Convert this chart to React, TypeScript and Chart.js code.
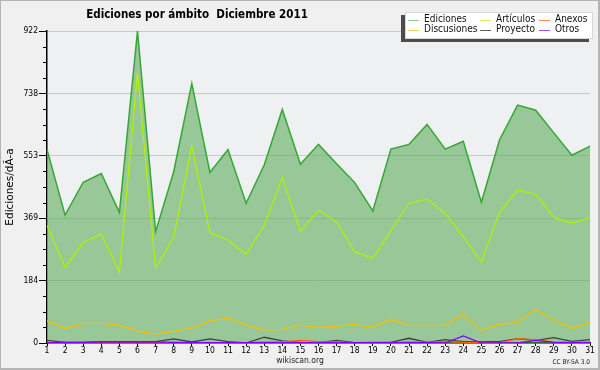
import React, { useEffect, useRef } from "react";
import { Chart, registerables } from "chart.js";

Chart.register(...registerables);

const days = ["1","2","3","4","5","6","7","8","9","10","11","12","13","14","15","16","17","18","19","20","21","22","23","24","25","26","27","28","29","30","31"];
const ediciones = [572,378,475,501,386,922,329,506,767,504,572,413,526,690,528,587,530,474,390,573,587,646,573,596,416,600,703,688,621,555,582];
const articulos = [347,224,297,322,209,797,221,312,582,326,304,262,347,488,330,393,357,270,250,332,413,425,383,314,238,386,452,439,371,354,371];
const discusiones = [66,43,58,58,53,35,26,35,43,66,73,53,38,40,53,46,50,55,46,70,52,52,52,85,38,55,61,100,68,43,61];
const proyecto = [8,2,2,4,4,4,4,12,3,12,4,0,17,6,2,1,8,1,2,2,14,2,10,4,4,4,13,8,16,5,10];
const anexos = [1,1,1,1,1,1,1,1,0,0,0,0,1,3,8,4,3,0,0,0,3,2,5,2,2,0,13,10,3,2,1];
const otros = [0,2,2,3,3,3,3,2,1,1,1,1,2,1,1,1,1,1,1,1,1,1,0,21,0,0,0,8,2,1,2];

const yMax = 922;
const yDivisions = 20;
const yMajorEvery = 4;

const FONT = "'DejaVu Sans Condensed', 'DejaVu Sans', sans-serif";

const legendItems = [
  { label: "Ediciones", color: "#8ad08a", col: 0, row: 0 },
  { label: "Artículos", color: "#c8f060", col: 1, row: 0 },
  { label: "Anexos", color: "#f08a5a", col: 2, row: 0 },
  { label: "Discusiones", color: "#f8d060", col: 0, row: 1 },
  { label: "Proyecto", color: "#606060", col: 1, row: 1 },
  { label: "Otros", color: "#a050f0", col: 2, row: 1 },
];

const decorPlugin = {
  id: "decor",
  beforeDraw(chart: any) {
    const { ctx, chartArea } = chart;
    ctx.save();
    ctx.fillStyle = "#f0f0f0";
    ctx.fillRect(0, 0, chart.width, chart.height);
    ctx.fillStyle = "#eff0f2";
    ctx.fillRect(chartArea.left, chartArea.top, chartArea.right - chartArea.left, chartArea.bottom - chartArea.top);
    ctx.restore();
  },
  afterDraw(chart: any) {
    const { ctx } = chart;
    const y = chart.scales.y;
    const axisX = chart.chartArea.left;
    ctx.save();
    ctx.strokeStyle = "#000";
    ctx.lineWidth = 1;
    y.ticks.forEach((t: any, i: number) => {
      if (i % yMajorEvery !== 0) {
        const py = Math.round(y.getPixelForValue(t.value)) + 0.5;
        ctx.beginPath();
        ctx.moveTo(axisX - 4, py);
        ctx.lineTo(axisX, py);
        ctx.stroke();
      }
    });
    ctx.fillStyle = "#000";
    ctx.font = "bold 11.5px " + FONT;
    ctx.textAlign = "center";
    ctx.textBaseline = "middle";
    ctx.fillText("Ediciones por ámbito  Diciembre 2011", 197, 15);
    ctx.font = "8.5px " + FONT;
    ctx.fillStyle = "#222";
    ctx.fillText("wikiscan.org", 300, 361);
    ctx.font = "6.5px " + FONT;
    ctx.textAlign = "right";
    ctx.fillText("CC BY-SA 3.0", 590, 362);
    ctx.fillStyle = "#4c4c4c";
    ctx.fillRect(401, 15, 188, 27);
    ctx.fillStyle = "#fff";
    ctx.fillRect(405, 12, 188, 27);
    ctx.strokeStyle = "#d8d8d8";
    ctx.strokeRect(405.5, 12.5, 187, 26);
    const colX = [408, 480, 539];
    const rowY = [19.5, 29.5];
    ctx.font = "10px " + FONT;
    ctx.textAlign = "left";
    ctx.textBaseline = "middle";
    legendItems.forEach((it) => {
      const x = colX[it.col];
      const yy = rowY[it.row];
      ctx.strokeStyle = it.color;
      ctx.lineWidth = 1;
      ctx.beginPath();
      ctx.moveTo(x, Math.round(yy) + 0.5);
      ctx.lineTo(x + 11, Math.round(yy) + 0.5);
      ctx.stroke();
      ctx.fillStyle = "#111";
      ctx.fillText(it.label, x + 16, yy);
    });
    ctx.fillStyle = "#b4b4b4";
    ctx.fillRect(0, 0, chart.width, 1);
    ctx.fillRect(0, 0, 1, chart.height);
    ctx.fillRect(chart.width - 2, 0, 2, chart.height);
    ctx.fillRect(0, chart.height - 2, chart.width, 2);
    ctx.restore();
  },
};

export default function App() {
  const ref = useRef<HTMLCanvasElement | null>(null);
  useEffect(() => {
    document.body.style.margin = "0";
    const canvas = ref.current!;
    const line = (label: string, data: number[], color: string, order: number, width: number, extra: any = {}) => ({
      label,
      data,
      borderColor: color,
      borderWidth: width,
      pointRadius: 0,
      tension: 0,
      fill: false,
      order,
      ...extra,
    });
    const chart = new Chart(canvas, {
      type: "line",
      data: {
        labels: days,
        datasets: [
          line("Ediciones", ediciones, "#34a834", 6, 1.5, { fill: "origin", backgroundColor: "rgba(94,173,92,0.6)" }),
          line("Artículos", articulos, "#b0f000", 5, 1.3),
          line("Discusiones", discusiones, "#f2c000", 4, 1.3),
          line("Proyecto", proyecto, "#404040", 3, 1.3),
          line("Anexos", anexos, "#ff6000", 2, 1.3),
          line("Otros", otros, "#8000ff", 1, 1.3),
        ],
      },
      options: {
        animation: false,
        responsive: false,
        devicePixelRatio: 1,
        layout: { padding: { top: 31, right: 10, left: 0, bottom: 0 } },
        plugins: { legend: { display: false }, title: { display: false }, tooltip: { enabled: false } },
        scales: {
          x: {
            offset: false,
            afterFit: (s: any) => { s.height = 27; },
            ticks: { autoSkip: false, maxRotation: 0, padding: 0, color: "#000", font: { family: FONT, size: 8.5 } },
            grid: { drawOnChartArea: false, tickLength: 3, color: "#000" },
            border: { color: "#000", width: 1.5 },
          },
          y: {
            min: 0,
            max: yMax,
            afterBuildTicks: (s: any) => {
              const t = [];
              for (let i = 0; i <= yDivisions; i++) t.push({ value: (i * yMax) / yDivisions });
              s.ticks = t;
            },
            afterFit: (s: any) => { s.width = 47; },
            ticks: {
              autoSkip: false,
              padding: 1,
              color: "#000",
              font: { family: FONT, size: 8.5 },
              callback: (v: any, i: number) => (i % yMajorEvery === 0 ? String(Math.round(Number(v))) : ""),
            },
            grid: {
              color: (c: any) => (c.index % yMajorEvery === 0 && c.index > 0 ? "#c8c8c8" : "rgba(0,0,0,0)"),
              tickColor: (c: any) => (c.index % yMajorEvery === 0 ? "#000" : "rgba(0,0,0,0)"),
              tickLength: 8,
              lineWidth: 1,
            },
            border: { color: "#000", width: 1.5 },
            title: {
              display: true,
              text: "Ediciones/dÃ-a",
              color: "#000",
              font: { family: "'DejaVu Sans', sans-serif", size: 10.5 },
              padding: { top: 4, bottom: 0 },
            },
          },
        },
      },
      plugins: [decorPlugin],
    });
    return () => chart.destroy();
  }, []);
  return (
    <div style={{ width: 600, height: 370 }}>
      <canvas ref={ref} width={600} height={370} style={{ display: "block" }} />
    </div>
  );
}
